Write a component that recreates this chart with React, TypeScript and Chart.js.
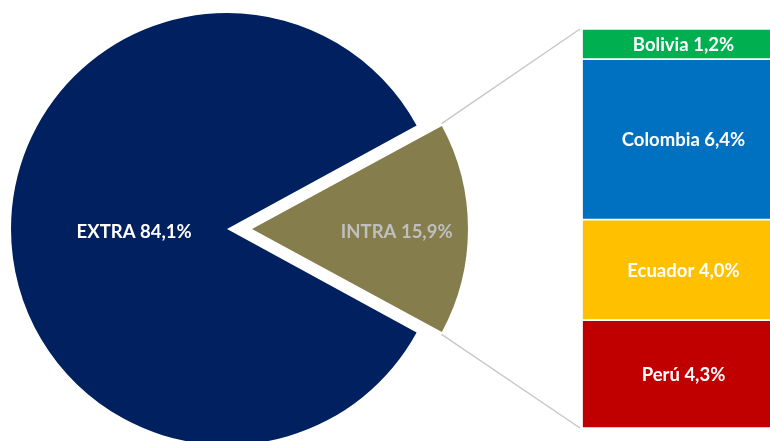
import React, { useEffect, useRef } from "react";
import { Chart, registerables } from "chart.js";

Chart.register(...registerables);

// Pie data
const pieLabels = ["INTRA", "EXTRA"];
const pieValues = [15.9, 84.1];
const pieColors = ["#857D4C", "#002060"];
const pieTextColors = ["#BFBFBF", "#FFFFFF"];

// Breakdown bar data (top to bottom)
const barLabels = ["Bolivia", "Colombia", "Ecuador", "Perú"];
const barValues = [1.2, 6.4, 4.0, 4.3];
const barColors = ["#00B050", "#0070C0", "#FFC000", "#C00000"];

const fmt = (v: number) => v.toFixed(1).replace(".", ",") + "%";

const FONT = "bold 18.5px Lato, 'Open Sans', sans-serif";
const BAR_LEFT = 582;
const BAR_CANVAS_W = 203;
const W = 770;
const H = 441;
const INTRA_OFFSET = 100; // chart.js translates arcs by offset/4
const INTRA_SHRINK = 4; // exploded slice drawn slightly smaller
const LABEL_FRAC = [0.67, 0.43];

export default function App() {
  const pieRef = useRef<HTMLCanvasElement | null>(null);
  const barRef = useRef<HTMLCanvasElement | null>(null);

  useEffect(() => {
    document.body.style.margin = "0";
    const barCanvas = barRef.current!;
    const pieCanvas = pieRef.current!;

    const barLabelPlugin = {
      id: "barLabels",
      afterDatasetsDraw(chart: any) {
        const ctx = chart.ctx;
        ctx.save();
        ctx.font = FONT;
        ctx.fillStyle = "#FFFFFF";
        ctx.textAlign = "center";
        ctx.textBaseline = "middle";
        chart.data.datasets.forEach((ds: any, i: number) => {
          const el = chart.getDatasetMeta(i).data[0] as any;
          const cy = (el.y + el.base) / 2;
          ctx.fillText(`${barLabels[i]} ${fmt(barValues[i])}`, el.x, cy + 1);
        });
        ctx.restore();
      },
    };

    const barChart = new Chart(barCanvas, {
      type: "bar",
      data: {
        labels: ["INTRA"],
        datasets: barLabels.map((l, i) => ({
          label: l,
          data: [barValues[i]],
          backgroundColor: barColors[i],
          borderColor: "#FFFFFF",
          borderWidth: 1.2,
          borderSkipped: false,
          barPercentage: 1,
          categoryPercentage: 1,
        })),
      },
      options: {
        responsive: false,
        maintainAspectRatio: false,
        animation: false,
        layout: { padding: { top: 29, bottom: 13, left: 0, right: 0 } },
        scales: {
          x: { display: false, stacked: true },
          y: {
            display: false,
            stacked: true,
            reverse: true,
            min: 0,
            max: barValues.reduce((a, b) => a + b, 0),
          },
        },
        plugins: { legend: { display: false }, tooltip: { enabled: false } },
      },
      plugins: [barLabelPlugin],
    });

    const arcGeom = (el: any, opt: any) => {
      const offset = (opt.offset || 0) / 4;
      const circ = el.endAngle - el.startAngle;
      const mid = (el.startAngle + el.endAngle) / 2;
      const fix = 1 - Math.sin(Math.min(Math.PI, circ));
      const R = el.outerRadius + offset * fix;
      const cx = el.x + Math.cos(mid) * offset;
      const cy = el.y + Math.sin(mid) * offset;
      return { cx, cy, R, mid };
    };

    const piePlugin = {
      id: "pieExtras",
      afterDatasetUpdate(chart: any, args: any) {
        if (args.index !== 0) return;
        const el = chart.getDatasetMeta(0).data[0] as any;
        el.outerRadius = el.outerRadius - INTRA_SHRINK;
      },
      afterDatasetsDraw(chart: any) {
        const ctx = chart.ctx;
        const meta = chart.getDatasetMeta(0);
        ctx.save();
        // connector lines from INTRA slice to the breakdown bar
        const intra = meta.data[0] as any;
        const g = arcGeom(intra, intra.options);
        const bm0 = barChart.getDatasetMeta(0).data[0] as any;
        const bmN = barChart.getDatasetMeta(barLabels.length - 1).data[0] as any;
        const bx = BAR_LEFT + bm0.x - bm0.width / 2 - 2;
        const topY = Math.min(bm0.y, bm0.base);
        const botY = Math.max(bmN.y, bmN.base);
        ctx.strokeStyle = "#C8C8C8";
        ctx.lineWidth = 1.5;
        ctx.beginPath();
        ctx.moveTo(g.cx + g.R * Math.cos(intra.startAngle), g.cy + g.R * Math.sin(intra.startAngle) - 2);
        ctx.lineTo(bx, topY);
        ctx.moveTo(g.cx + g.R * Math.cos(intra.endAngle), g.cy + g.R * Math.sin(intra.endAngle) + 2);
        ctx.lineTo(bx, botY);
        ctx.stroke();
        // labels
        ctx.font = FONT;
        ctx.textAlign = "center";
        ctx.textBaseline = "middle";
        meta.data.forEach((el: any, i: number) => {
          const gg = arcGeom(el, el.options);
          const r = gg.R * LABEL_FRAC[i];
          ctx.fillStyle = pieTextColors[i];
          ctx.fillText(
            `${pieLabels[i]} ${fmt(pieValues[i])}`,
            gg.cx + Math.cos(gg.mid) * r,
            gg.cy + Math.sin(gg.mid) * r + 3
          );
        });
        ctx.restore();
      },
    };

    const pieChart = new Chart(pieCanvas, {
      type: "pie",
      data: {
        labels: pieLabels,
        datasets: [
          {
            data: pieValues,
            backgroundColor: pieColors,
            borderWidth: 0,
            offset: [INTRA_OFFSET, 0],
          },
        ],
      },
      options: {
        responsive: false,
        maintainAspectRatio: false,
        animation: false,
        rotation: 90 - (pieValues[0] / 100) * 180,
        radius: 216,
        layout: { padding: { left: 0, right: 316, top: 17, bottom: 0 } },
        plugins: { legend: { display: false }, tooltip: { enabled: false } },
      },
      plugins: [piePlugin],
    });

    return () => {
      pieChart.destroy();
      barChart.destroy();
    };
  }, []);

  return (
    <div
      style={{
        position: "absolute",
        left: 0,
        top: 0,
        width: W,
        height: H,
        overflow: "hidden",
        background: "#FFFFFF",
      }}
    >
      <canvas
        ref={pieRef}
        width={W}
        height={H}
        style={{ position: "absolute", left: 0, top: 0, width: W, height: H }}
      />
      <canvas
        ref={barRef}
        width={BAR_CANVAS_W}
        height={H}
        style={{ position: "absolute", left: BAR_LEFT, top: 0, width: BAR_CANVAS_W, height: H }}
      />
    </div>
  );
}
